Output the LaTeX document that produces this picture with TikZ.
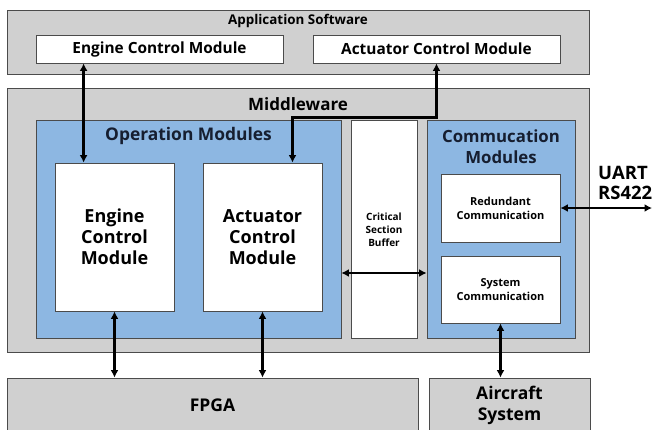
\documentclass[tikz,border=0pt]{standalone}
\usepackage{fontspec}
\setmainfont{Open Sans}
\usetikzlibrary{arrows.meta}
\definecolor{boxgray}{RGB}{208,208,208}
\definecolor{edgegray}{RGB}{75,75,75}
\definecolor{modblue}{RGB}{141,183,226}
\definecolor{titlenavy}{RGB}{22,30,48}

\begin{document}
\begin{tikzpicture}[x=1pt,y=-1pt]

% Box style
\tikzset{
    layer/.style={draw=edgegray, fill=boxgray, line width=0.8pt, inner sep=0pt, align=center, font=\bfseries\fontsize{17.5}{21}\selectfont},
    group/.style={draw=edgegray, fill=modblue, line width=0.8pt, inner sep=0pt},
    module/.style={draw=edgegray, fill=white, line width=0.8pt, inner sep=0pt, align=center, font=\bfseries},
    title/.style={font=\bfseries, align=center, inner sep=0pt},
    dlink/.style={line width=2.6pt, {Latex[length=7.5pt,width=8pt]}-{Latex[length=7.5pt,width=8pt]}}
}
\useasboundingbox (0,0) rectangle (653,429);

% Application software
\node[layer, minimum width=582pt, minimum height=64pt] (AppSW) at (298,42) {};
\node[title, font=\bfseries\fontsize{13.4}{15}\selectfont] (AppTitle) at (298,21) {Application Software};
\node[module, minimum width=247pt, minimum height=28pt, font=\bfseries\fontsize{15.4}{18}\selectfont] (AppEng) at (159.5,49) {Engine Control Module};
\node[module, minimum width=247pt, minimum height=28pt, font=\bfseries\fontsize{15.4}{18}\selectfont] (AppAct) at (436.5,49) {Actuator Control Module};

% Middleware
\node[layer, minimum width=582pt, minimum height=264pt] (MW) at (298,220) {};
\node[title, font=\bfseries\fontsize{17}{20}\selectfont] (MWTitle) at (298,104) {Middleware};

% Operation modules
\node[group, minimum width=305pt, minimum height=218pt] (OpMod) at (188.5,229) {};
\node[title, text=titlenavy, font=\bfseries\fontsize{17.4}{20}\selectfont] (OpTitle) at (188.5,136) {Operation Modules};
\node[module, minimum width=119pt, minimum height=148pt, font=\bfseries\fontsize{18}{21}\selectfont] (Eng) at (114.5,237) {Engine\\Control\\Module};
\node[module, minimum width=119pt, minimum height=148pt, font=\bfseries\fontsize{18}{21}\selectfont] (Act) at (262.5,237) {Actuator\\Control\\Module};

% Critical section buffer
\node[module, minimum width=66pt, minimum height=218pt] (CSB) at (384,229) {};
\node[title, font=\bfseries\fontsize{10}{12.8}\selectfont] (CSBText) at (384,230) {Critical\\Section\\Buffer};

% Communication modules
\node[group, minimum width=148pt, minimum height=218pt] (ComMod) at (501,229) {};
\node[title, text=titlenavy, font=\bfseries\fontsize{16.8}{21}\selectfont] (ComTitle) at (501,146.5) {Commucation\\Modules};
\node[module, minimum width=119pt, minimum height=68pt, font=\bfseries\fontsize{11}{14}\selectfont] (Red) at (500.5,208) {Redundant\\Communication};
\node[module, minimum width=119pt, minimum height=67pt, font=\bfseries\fontsize{11}{14}\selectfont] (Sys) at (500.5,289.5) {System\\Communication};

% Hardware
\node[layer, minimum width=411pt, minimum height=54pt] (FPGA) at (212.5,405) {FPGA};
\node[layer, minimum width=161pt, minimum height=54pt] (Air) at (509.5,405) {Aircraft\\System};

% External link
\node[title, anchor=west, align=left, font=\bfseries\fontsize{18.5}{20.5}\selectfont] (UART) at (598,183) {UART\\RS422};
\coordinate (UARTend) at (652,208);

% Connection
\draw[dlink] ([xshift=29pt]Eng.north west |- AppEng.south) -- ([xshift=29pt]Eng.north west);
\draw[dlink] (AppAct.south) -- ++(0,54) -| ([xshift=30pt]Act.north);
\draw[dlink] (Eng.south) -- (Eng.south |- FPGA.north);
\draw[dlink] (Act.south) -- (Act.south |- FPGA.north);
\draw[dlink] (Sys.south) -- (Sys.south |- Air.north);
\draw[dlink] ([yshift=-44pt]OpMod.east) -- ([yshift=-44pt]ComMod.west);
\draw[dlink] (Red.east) -- (UARTend);
\end{tikzpicture}
\end{document}
